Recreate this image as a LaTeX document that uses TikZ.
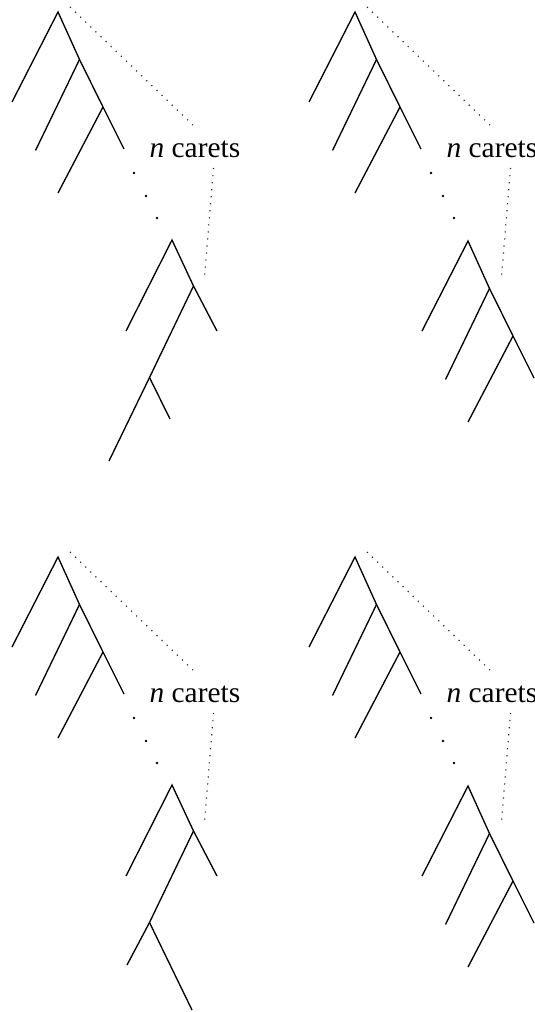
\documentclass[tikz,border=0pt]{standalone}
\usepackage{fontspec}
\setmainfont{Liberation Serif}
\tikzset{
  branch/.style={line width=0.45pt},
  hint/.style={dotted, line width=0.4pt, black!85},
  ddot/.style={circle, fill, inner sep=0pt, minimum size=1pt},
}
\begin{document}
\begin{tikzpicture}[x=0.34pt, y=-0.34pt]
  \useasboundingbox (0,0) rectangle (534,1012);
  % combs of three carets (upper trees, and lower trees on the right)
  \foreach \cx/\cy/\c in {58/12/ta, 355/12/tb, 58/557/tc, 355/557/td, 468/241/ub, 468/786/ud}{
    \begin{scope}[shift={(\cx,\cy)}]
      \coordinate (\c-r)  at (0, 0);
      \coordinate (\c-l0) at (-46, 90);
      \coordinate (\c-s1) at (21.5, 47.5);
      \coordinate (\c-l1) at (-22.5, 138.5);
      \coordinate (\c-s2) at (45, 95);
      \coordinate (\c-l2) at (0, 181);
      \coordinate (\c-s3) at (66, 137);
      \draw[branch] (\c-l0) -- (\c-r) -- (\c-s1) -- (\c-s2) -- (\c-s3);
      \draw[branch] (\c-s1) -- (\c-l1);
      \draw[branch] (\c-s2) -- (\c-l2);
    \end{scope}
  }
  % n carets label, dotted braces and dots
  \foreach \px/\py/\p in {58/12/a, 355/12/b, 58/557/c, 355/557/d}{
    \begin{scope}[shift={(\px,\py)}]
      \node[anchor=base west, inner sep=0pt] (\p-lab) at (91, 145) {\textit{n} carets};
      \coordinate (\p-h1) at (12, -5);
      \coordinate (\p-h2) at (138, 116);
      \coordinate (\p-v1) at (155.5, 156);
      \coordinate (\p-v2) at (146.5, 265);
      \draw[hint] (\p-h1) -- (\p-h2);
      \draw[hint] (\p-v1) -- (\p-v2);
      \node[ddot] (\p-d1) at (76, 161) {};
      \node[ddot] (\p-d2) at (88, 184) {};
      \node[ddot] (\p-d3) at (99, 206) {};
    \end{scope}
  }
  % lower tree, top left
  \coordinate (ua-r)  at (172, 240);
  \coordinate (ua-l0) at (126, 331);
  \coordinate (ua-a)  at (193.5, 286);
  \coordinate (ua-ar) at (217, 331);
  \coordinate (ua-b)  at (149.5, 377.5);
  \coordinate (ua-bl) at (109, 461);
  \coordinate (ua-br) at (170, 419);
  \draw[branch] (ua-l0) -- (ua-r) -- (ua-a) -- (ua-ar);
  \draw[branch] (ua-a) -- (ua-b) -- (ua-bl);
  \draw[branch] (ua-b) -- (ua-br);
  % lower tree, bottom left
  \coordinate (uc-r)  at (172, 785);
  \coordinate (uc-l0) at (126, 876);
  \coordinate (uc-a)  at (193.5, 831);
  \coordinate (uc-ar) at (217, 876);
  \coordinate (uc-b)  at (149.5, 922.5);
  \coordinate (uc-bl) at (127, 965);
  \coordinate (uc-br) at (192, 1010);
  \draw[branch] (uc-l0) -- (uc-r) -- (uc-a) -- (uc-ar);
  \draw[branch] (uc-a) -- (uc-b) -- (uc-bl);
  \draw[branch] (uc-b) -- (uc-br);
\end{tikzpicture}
\end{document}
